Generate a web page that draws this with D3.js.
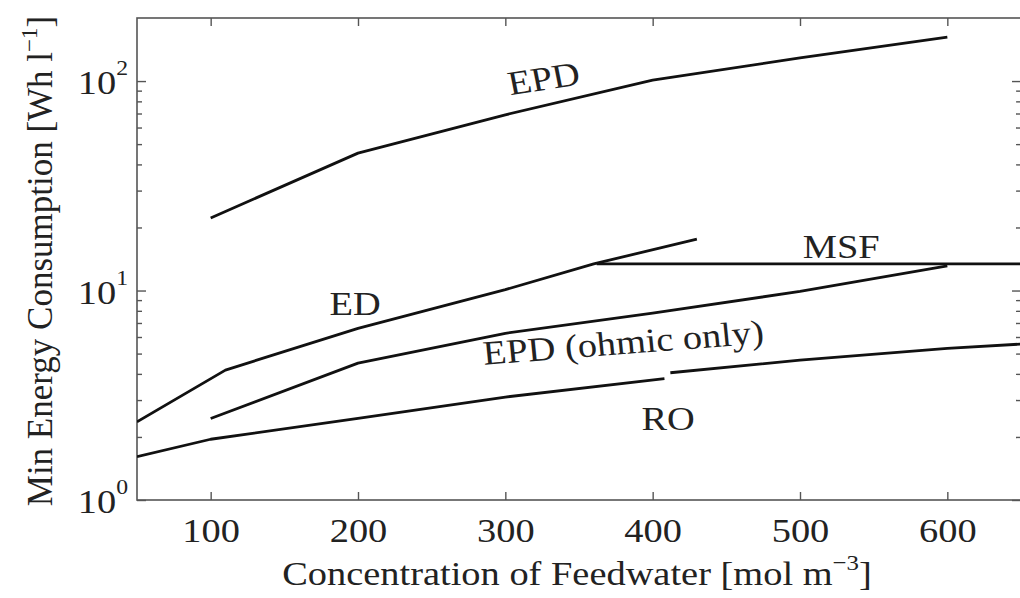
<!DOCTYPE html>
<html>
<head>
<meta charset="utf-8">
<script src="https://cdn.jsdelivr.net/npm/d3@7"></script>
<style>
  html, body { margin: 0; padding: 0; background: #fff; }
  svg text { font-family: "Liberation Serif", "Times New Roman", serif; fill: #222; }
</style>
</head>
<body>
<svg id="chart" width="1020" height="598"></svg>
<script>
// ---- data ----
const xTicks = [100, 200, 300, 400, 500, 600];
const yTicks = [1, 10, 100];
const yTickExp = ["0", "1", "2"];
const yMinorTicks = [2, 3, 4, 5, 6, 7, 8, 9, 20, 30, 40, 50, 60, 70, 80, 90];

const epd      = [[100, 22.2], [200, 45.3], [300, 69], [400, 101], [500, 129], [600, 162]];
const ed       = [[50, 2.36], [110, 4.17], [200, 6.6], [300, 10.1], [360, 13.4], [430, 17.6]];
const msf      = [[362, 13.4], [650, 13.4]];
const epdOhmic = [[100, 2.45], [200, 4.5], [300, 6.25], [400, 7.8], [500, 9.9], [600, 13.1]];
const roLow    = [[50, 1.61], [100, 1.95], [200, 2.45], [300, 3.1], [408, 3.8]];
const roHigh   = [[412, 4.05], [500, 4.65], [600, 5.3], [650, 5.55]];

const seriesList = [epd, ed, msf, epdOhmic, roLow, roHigh];

const labelText  = ["EPD", "ED", "MSF", "EPD (ohmic only)", "RO"];
const labelX     = [326, 198, 528, 380, 410.5];
const labelY     = [103, 8.67, 16.3, 5.65, 2.44];
const labelAngle = [-10, 0, 0, -5, 0];

const xTitle = "Concentration of Feedwater [mol m";
const xTitleSup = "\u22123";
const yTitle = "Min Energy Consumption [Wh l";
const yTitleSup = "\u22121";

// ---- layout ----
const L = 137, R = 1021, T = 18, B = 500;
const SX = 1.13;   // horizontal stretch of the reference text
const FS = 34;

const svg = d3.select("#chart");
const x = d3.scaleLinear().domain([50, 650]).range([L, R]);
const y = d3.scaleLog().domain([1, 200]).range([B, T]);

const axisColor = "#555";

function styleAxis(g) {
  g.select(".domain").remove();
  g.selectAll(".tick line").attr("stroke", axisColor).attr("stroke-width", 1.4);
}

// bottom axis
svg.append("g").attr("transform", `translate(0,${B})`)
  .call(d3.axisBottom(x).tickValues(xTicks).tickSizeInner(-8).tickSizeOuter(0).tickPadding(18))
  .call(styleAxis)
  .call(g => g.selectAll(".tick text")
    .attr("font-size", FS).attr("fill", "#222")
    .attr("transform", `scale(${SX},1)`));

// top axis (mirrored ticks)
svg.append("g").attr("transform", `translate(0,${T})`)
  .call(d3.axisTop(x).tickValues(xTicks).tickSizeInner(-8).tickSizeOuter(0).tickFormat(""))
  .call(styleAxis);

// left axis major + minor
svg.append("g").attr("transform", `translate(${L},0)`)
  .call(d3.axisLeft(y).tickValues(yTicks).tickSizeInner(-9).tickSizeOuter(0).tickFormat(""))
  .call(styleAxis);
svg.append("g").attr("transform", `translate(${L},0)`)
  .call(d3.axisLeft(y).tickValues(yMinorTicks).tickSizeInner(-5).tickSizeOuter(0).tickFormat(""))
  .call(styleAxis);
// right axis major + minor
svg.append("g").attr("transform", `translate(${R},0)`)
  .call(d3.axisRight(y).tickValues(yTicks).tickSizeInner(-9).tickSizeOuter(0).tickFormat(""))
  .call(styleAxis);
svg.append("g").attr("transform", `translate(${R},0)`)
  .call(d3.axisRight(y).tickValues(yMinorTicks).tickSizeInner(-5).tickSizeOuter(0).tickFormat(""))
  .call(styleAxis);

// y tick labels 10^k
yTicks.forEach((v, i) => {
  const g = svg.append("g").attr("transform", `translate(${L - 9},${y(v) + 13}) scale(${SX},1)`);
  const t = g.append("text").attr("text-anchor", "end").attr("font-size", FS);
  t.append("tspan").text("10");
  t.append("tspan").attr("font-size", 21).attr("dy", -19).text(yTickExp[i]);
});

// frame
svg.append("rect")
  .attr("x", L).attr("y", T).attr("width", R - L).attr("height", B - T)
  .attr("fill", "none").attr("stroke", axisColor).attr("stroke-width", 1.6);

// clip
svg.append("clipPath").attr("id", "clip")
  .append("rect").attr("x", L).attr("y", T).attr("width", R - L).attr("height", B - T);

const line = d3.line().x(d => x(d[0])).y(d => y(d[1]));
svg.append("g").attr("clip-path", "url(#clip)")
  .selectAll("path").data(seriesList).join("path")
  .attr("d", line)
  .attr("fill", "none")
  .attr("stroke", "#111")
  .attr("stroke-width", 2.8)
  .attr("stroke-linejoin", "round");

// curve labels
labelText.forEach((txt, i) => {
  svg.append("g")
    .attr("transform", `translate(${x(labelX[i])},${y(labelY[i])}) scale(${SX},1) rotate(${labelAngle[i]})`)
    .append("text")
    .attr("text-anchor", "middle")
    .attr("dy", "0.34em")
    .attr("font-size", FS)
    .text(txt);
});

// x title
{
  const g = svg.append("g").attr("transform", `translate(${(L + R) / 2 - 2},585) scale(${SX},1)`);
  const t = g.append("text").attr("text-anchor", "middle").attr("font-size", FS);
  t.append("tspan").text(xTitle);
  t.append("tspan").attr("font-size", 22).attr("dy", -15).text(xTitleSup);
  t.append("tspan").attr("dy", 15).text("]");
}

// y title
{
  const g = svg.append("g").attr("transform", `translate(52,${(T + B) / 2 + 2}) rotate(-90)`);
  const t = g.append("text").attr("text-anchor", "middle").attr("font-size", 35);
  t.append("tspan").text(yTitle);
  t.append("tspan").attr("font-size", 23).attr("dy", -15).text(yTitleSup);
  t.append("tspan").attr("dy", 15).text("]");
}
</script>
</body>
</html>
